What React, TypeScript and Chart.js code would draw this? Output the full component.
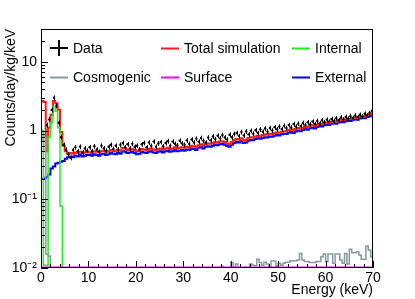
import { useEffect, useRef } from "react";
import { Chart, registerables } from "chart.js";

Chart.register(...registerables);

// ---- binning / axes ----
const BIN_WIDTH = 0.5; // keV
const X_MIN = 0;
const X_MAX = 70;
const Y_MIN = 0.01;
const Y_MAX = 30;
const yTickValues = [0.01, 0.1, 1, 10];
const yTickLabels = ["10\u207B\u00B2", "10\u207B\u00B9", "1", "10"];
const X_TITLE = "Energy (keV)";
const Y_TITLE = "Counts/day/kg/keV";

const legendLabels = ["Data", "Total simulation", "Internal", "Cosmogenic", "Surface", "External"];

// ---- series (0.5 keV bins from 0 to 70 keV) ----
const dataValues: (number | null)[] = [
  null, null, 1.2, 1.45, 2.0, 3.0, 2.3, 1.3, 0.8, 0.62,
  0.53, 0.45, 0.40, 0.52, 0.57, 0.50, 0.58, 0.48, 0.55, 0.51,
  0.57, 0.50, 0.59, 0.53, 0.49, 0.60, 0.55, 0.51, 0.58, 0.62,
  0.54, 0.60, 0.53, 0.62, 0.66, 0.57, 0.63, 0.55, 0.64, 0.58,
  0.60, 0.53, 0.63, 0.66, 0.57, 0.67, 0.60, 0.69, 0.58, 0.65,
  0.68, 0.59, 0.66, 0.70, 0.60, 0.69, 0.64, 0.61, 0.71, 0.65,
  0.62, 0.72, 0.64, 0.74, 0.67, 0.76, 0.69, 0.78, 0.71, 0.67,
  0.79, 0.72, 0.82, 0.75, 0.84, 0.77, 0.86, 0.79, 0.74, 0.87,
  0.80, 0.89, 0.92, 0.83, 0.95, 0.85, 0.97, 0.88, 0.99, 0.90,
  1.01, 0.92, 1.04, 0.96, 1.07, 0.97, 1.09, 1.00, 1.12, 1.04,
  1.14, 1.05, 1.17, 1.09, 1.20, 1.11, 1.24, 1.14, 1.26, 1.16,
  1.29, 1.20, 1.32, 1.23, 1.35, 1.24, 1.38, 1.27, 1.41, 1.32,
  1.44, 1.35, 1.47, 1.38, 1.51, 1.41, 1.55, 1.45, 1.58, 1.49,
  1.62, 1.52, 1.66, 1.57, 1.70, 1.61, 1.75, 1.66, 1.80, 1.92,
];

const totalSimulation = [
  2.7, 2.6, 0.5, 1.1, 1.7, 2.7, 2.5, 2.0, 0.95, 0.6,
  0.5, 0.46, 0.47, 0.46, 0.48, 0.47, 0.49, 0.47, 0.48, 0.49,
  0.48, 0.47, 0.50, 0.49, 0.48, 0.50, 0.51, 0.49, 0.50, 0.52,
  0.51, 0.50, 0.52, 0.51, 0.56, 0.55, 0.52, 0.53, 0.54, 0.52,
  0.50, 0.51, 0.54, 0.53, 0.52, 0.54, 0.55, 0.53, 0.52, 0.54,
  0.55, 0.53, 0.55, 0.56, 0.54, 0.55, 0.57, 0.55, 0.56, 0.57,
  0.56, 0.58, 0.57, 0.60, 0.59, 0.57, 0.61, 0.63, 0.61, 0.64,
  0.65, 0.64, 0.66, 0.68, 0.67, 0.69, 0.70, 0.68, 0.65, 0.63,
  0.68, 0.73, 0.75, 0.74, 0.77, 0.72, 0.73, 0.78, 0.80, 0.79,
  0.82, 0.84, 0.83, 0.86, 0.88, 0.87, 0.90, 0.89, 0.92, 0.94,
  0.93, 0.96, 0.98, 0.97, 1.02, 1.04, 1.01, 1.06, 1.09, 1.07,
  1.11, 1.14, 1.12, 1.17, 1.19, 1.16, 1.22, 1.25, 1.23, 1.28,
  1.31, 1.29, 1.35, 1.37, 1.34, 1.40, 1.43, 1.41, 1.46, 1.49,
  1.47, 1.52, 1.55, 1.53, 1.59, 1.62, 1.60, 1.68, 1.72, 1.78,
];

// internal component only populates the first bins (0 - 5 keV)
const internal = [1.0, 0.011, 0.011, 0.8, 1.3, 2.2, 1.9, 1.1, 0.08, 0];

const cosmogenic = [
  0.7, 0.8, 0.016, 0.015, 0, 0, 0, 0, 0, 0,
  0, 0, 0, 0, 0, 0, 0, 0, 0, 0,
  0, 0, 0, 0, 0, 0, 0, 0, 0, 0,
  0, 0, 0, 0, 0, 0, 0, 0, 0, 0,
  0, 0, 0, 0, 0, 0, 0, 0, 0.0103, 0,
  0, 0, 0, 0, 0, 0, 0, 0, 0, 0,
  0, 0, 0, 0, 0, 0, 0, 0, 0, 0,
  0, 0, 0, 0, 0, 0, 0.0105, 0, 0, 0,
  0.012, 0, 0.0114, 0, 0, 0, 0, 0, 0.0114, 0.011,
  0.0108, 0.0134, 0.012, 0.011, 0.0121, 0.0114, 0.0107, 0.0126, 0.0126, 0.0107,
  0.0117, 0.011, 0.0117, 0.0121, 0.0121, 0.0128, 0.0128, 0.0128, 0.0131, 0.0163,
  0.0131, 0.0124, 0.0124, 0.012, 0.012, 0.012, 0.0124, 0.0124, 0.0146, 0.016,
  0.0124, 0.016, 0.016, 0.0117, 0.016, 0.016, 0.0131, 0.0117, 0.0163, 0.0114,
  0.0187, 0.0167, 0.0167, 0.0173, 0.0155, 0.0134, 0.0134, 0.0209, 0.0183, 0.0146,
];

const surface = [
  0.0102, 0.0102, 0.0102, 0.0102, 0.0102, 0.0102, 0.0102, 0.0102, 0.0102, 0.0102,
  0.0102, 0.0102, 0.0102, 0.0102, 0.0102, 0.0102, 0.0102, 0.0102, 0.0102, 0.0102,
  0.0102, 0.0102, 0.0102, 0.0102, 0.0102, 0.0102, 0.0102, 0.0102, 0.0102, 0.0102,
  0.0102, 0.0102, 0.0102, 0.0102, 0.0102, 0.0102, 0.0102, 0.0102, 0.0102, 0.0102,
  0.0102, 0.0102, 0.0102, 0.0102, 0.0102, 0.0102, 0.0102, 0.0102, 0.0102, 0.0102,
  0.0102, 0.0102, 0.0102, 0.0102, 0.0102, 0.0102, 0.0102, 0.0102, 0.0102, 0.0102,
  0.0102, 0.0102, 0.0102, 0.0102, 0.0102, 0.0102, 0.0102, 0.0102, 0.0102, 0.0102,
  0.0102, 0.0102, 0.0102, 0.0102, 0.0102, 0.0102, 0.0102, 0.0102, 0.0102, 0.0102,
  0.0102, 0.0102, 0.0102, 0.0102, 0.0102, 0.0102, 0.0102, 0.0102, 0.0102, 0.0102,
  0.0102, 0.0102, 0.0102, 0.0102, 0.0102, 0.0102, 0.0102, 0.0102, 0.0102, 0.0102,
  0.0102, 0.0102, 0.0102, 0.0102, 0.0102, 0.0102, 0.0102, 0.0102, 0.0102, 0.0102,
  0.0102, 0.0102, 0.0102, 0.0102, 0.0102, 0.0102, 0.0102, 0.0102, 0.0102, 0.0102,
  0.0102, 0.0102, 0.0102, 0.0102, 0.0102, 0.0102, 0.0102, 0.0102, 0.0102, 0.0102,
  0.0102, 0.0102, 0.0102, 0.0102, 0.0102, 0.0102, 0.0102, 0.0102, 0.0102, 0.0102,
];

const external = [
  0.20, 0.20, 0.21, 0.23, 0.28, 0.30, 0.33, 0.34, 0.35, 0.36,
  0.39, 0.41, 0.42, 0.41, 0.43, 0.42, 0.44, 0.42, 0.43, 0.44,
  0.44, 0.43, 0.45, 0.44, 0.43, 0.45, 0.46, 0.44, 0.45, 0.47,
  0.46, 0.45, 0.47, 0.46, 0.50, 0.49, 0.47, 0.48, 0.49, 0.47,
  0.45, 0.46, 0.49, 0.48, 0.47, 0.49, 0.50, 0.48, 0.47, 0.49,
  0.50, 0.48, 0.50, 0.51, 0.49, 0.50, 0.52, 0.50, 0.51, 0.52,
  0.51, 0.53, 0.52, 0.55, 0.54, 0.52, 0.56, 0.57, 0.55, 0.58,
  0.59, 0.58, 0.60, 0.62, 0.61, 0.63, 0.64, 0.62, 0.60, 0.58,
  0.62, 0.66, 0.68, 0.67, 0.70, 0.66, 0.67, 0.71, 0.73, 0.72,
  0.75, 0.77, 0.76, 0.78, 0.80, 0.79, 0.82, 0.81, 0.84, 0.86,
  0.85, 0.88, 0.90, 0.89, 0.93, 0.95, 0.92, 0.97, 1.00, 0.98,
  1.02, 1.05, 1.03, 1.08, 1.10, 1.07, 1.13, 1.16, 1.14, 1.19,
  1.22, 1.20, 1.26, 1.28, 1.25, 1.31, 1.34, 1.32, 1.37, 1.40,
  1.38, 1.43, 1.46, 1.44, 1.50, 1.53, 1.51, 1.57, 1.60, 1.64,
];

// ---- styles ----
const FONT = "'Liberation Sans', Arial, Helvetica, sans-serif";
const FONT_SIZE = 14;
const COLORS = {
  data: "#000000",
  total: "#ff1a1a",
  internal: "#22ee22",
  cosmogenic: "#8599a0",
  surface: "#ff00ff",
  external: "#0000ff",
};
const EMPTY = 1e-4; // below the axis: empty bin on a log scale
const ERR_FRAC = 0.08;

function histPoints(values: number[]) {
  const pts = values.map((v, i) => ({ x: X_MIN + i * BIN_WIDTH, y: v > 0 ? v : EMPTY }));
  pts.push({ x: X_MIN + values.length * BIN_WIDTH, y: pts[pts.length - 1].y });
  return pts;
}

function dataPoints(values: (number | null)[]) {
  const pts: { x: number; y: number }[] = [];
  values.forEach((v, i) => {
    if (v != null) pts.push({ x: X_MIN + (i + 0.5) * BIN_WIDTH, y: v });
  });
  return pts;
}

const rootStylePlugin = {
  id: "rootStyle",
  afterDatasetsDraw(chart: any) {
    const ctx = chart.ctx;
    const xs = chart.scales.x;
    const ys = chart.scales.y;
    const ds = chart.data.datasets[0].data as { x: number; y: number }[];
    ctx.save();
    ctx.beginPath();
    ctx.rect(chart.chartArea.left, chart.chartArea.top, chart.chartArea.right - chart.chartArea.left, chart.chartArea.bottom - chart.chartArea.top);
    ctx.clip();
    ctx.strokeStyle = COLORS.data;
    ctx.lineWidth = 1;
    ds.forEach((p) => {
      const px = Math.round(xs.getPixelForValue(p.x)) + 0.5;
      const py1 = ys.getPixelForValue(p.y * (1 + ERR_FRAC));
      const py2 = ys.getPixelForValue(p.y * (1 - ERR_FRAC));
      ctx.beginPath();
      ctx.moveTo(px, py1);
      ctx.lineTo(px, py2);
      ctx.stroke();
    });
    ctx.restore();
  },
  afterDraw(chart: any) {
    const ctx = chart.ctx;
    const { left, right, top, bottom } = chart.chartArea;
    const xs = chart.scales.x;
    const ys = chart.scales.y;
    ctx.save();
    ctx.strokeStyle = "#000";
    ctx.lineWidth = 1;
    // frame
    ctx.strokeRect(Math.round(left) + 0.5, Math.round(top) + 0.5, Math.round(right - left) - 1, Math.round(bottom - top) - 1);
    // x ticks (inside)
    ctx.beginPath();
    for (let e = X_MIN; e <= X_MAX; e += 2) {
      const px = Math.round(xs.getPixelForValue(e)) + 0.5;
      const len = e % 10 === 0 ? 7 : 4;
      ctx.moveTo(px, bottom);
      ctx.lineTo(px, bottom - len);
    }
    // y ticks (inside)
    for (let d = -2; d <= 1; d++) {
      for (let m = 1; m <= 9; m++) {
        const v = m * Math.pow(10, d);
        if (v < Y_MIN || v > Y_MAX) continue;
        const py = Math.round(ys.getPixelForValue(v)) + 0.5;
        const len = m === 1 ? 7 : 4;
        ctx.moveTo(left, py);
        ctx.lineTo(left + len, py);
      }
    }
    ctx.stroke();

    // legend
    const rows = [top + 19, top + 48];
    const cols = [left + 9, left + 120, left + 251];
    const symW = 18;
    const textGap = 5;
    ctx.font = `${FONT_SIZE}px ${FONT}`;
    ctx.textBaseline = "middle";
    ctx.textAlign = "left";
    ctx.fillStyle = "#000";
    legendLabels.forEach((label, i) => {
      const r = Math.floor(i / 3);
      const c = i % 3;
      const x0 = cols[c];
      const y0 = rows[r];
      const ds = chart.data.datasets.find((d: any) => d.label === label);
      if (label === "Data") {
        ctx.strokeStyle = "#000";
        ctx.lineWidth = 2;
        ctx.beginPath();
        ctx.moveTo(x0, y0);
        ctx.lineTo(x0 + symW, y0);
        ctx.moveTo(x0 + symW / 2, y0 - 8);
        ctx.lineTo(x0 + symW / 2, y0 + 8);
        ctx.stroke();
      } else {
        ctx.strokeStyle = ds ? ds.borderColor : "#000";
        ctx.lineWidth = 2;
        ctx.beginPath();
        ctx.moveTo(x0, y0 + 0.5);
        ctx.lineTo(x0 + symW, y0 + 0.5);
        ctx.stroke();
      }
      ctx.fillText(label, x0 + symW + textGap, y0 + 1);
    });
    ctx.restore();
  },
};

export default function App() {
  const canvasRef = useRef<HTMLCanvasElement>(null);

  useEffect(() => {
    if (!canvasRef.current) return;
    const font = { family: FONT, size: FONT_SIZE };
    const chart = new Chart(canvasRef.current, {
      type: "line",
      data: {
        datasets: [
          {
            label: "Data",
            type: "scatter",
            data: dataPoints(dataValues),
            backgroundColor: COLORS.data,
            borderColor: COLORS.data,
            borderWidth: 0,
            pointRadius: 1.2,
            pointHoverRadius: 1.2,
            showLine: false,
            order: 0,
          } as any,
          {
            label: "Surface",
            data: histPoints(surface),
            borderColor: COLORS.surface,
            borderWidth: 2,
            pointRadius: 0,
            stepped: true,
            fill: false,
            order: 1,
          },
          {
            label: "Cosmogenic",
            data: histPoints(cosmogenic),
            borderColor: COLORS.cosmogenic,
            borderWidth: 1.5,
            pointRadius: 0,
            stepped: true,
            fill: false,
            order: 2,
          },
          {
            label: "Internal",
            data: histPoints(internal),
            borderColor: COLORS.internal,
            borderWidth: 1.5,
            pointRadius: 0,
            stepped: true,
            fill: false,
            order: 3,
          },
          {
            label: "Total simulation",
            data: histPoints(totalSimulation),
            borderColor: COLORS.total,
            borderWidth: 2,
            pointRadius: 0,
            stepped: true,
            fill: false,
            order: 4,
          },
          {
            label: "External",
            data: histPoints(external),
            borderColor: COLORS.external,
            borderWidth: 2,
            pointRadius: 0,
            stepped: true,
            fill: false,
            order: 5,
          },
        ],
      },
      options: {
        animation: false,
        responsive: true,
        maintainAspectRatio: false,
        events: [],
        layout: { padding: { top: 29, right: 42, left: 0, bottom: 0 } },
        plugins: {
          legend: { display: false },
          tooltip: { enabled: false },
        },
        scales: {
          x: {
            type: "linear",
            min: X_MIN,
            max: X_MAX,
            afterFit: (s: any) => {
              s.height = 31;
            },
            grid: { display: false, drawTicks: false },
            border: { display: false },
            ticks: {
              stepSize: 10,
              color: "#000",
              font,
              padding: 2,
              maxRotation: 0,
              autoSkip: false,
            },
            title: {
              display: true,
              text: X_TITLE,
              align: "end",
              color: "#000",
              font,
              padding: { top: 0, bottom: 0 },
            },
          },
          y: {
            type: "logarithmic",
            min: Y_MIN,
            max: Y_MAX,
            afterFit: (s: any) => {
              s.width = 41;
            },
            afterBuildTicks: (s: any) => {
              s.ticks = yTickValues.map((v) => ({ value: v }));
            },
            grid: { display: false, drawTicks: false },
            border: { display: false },
            ticks: {
              color: "#000",
              font,
              padding: 4,
              autoSkip: false,
              callback: (_v: any, i: number) => yTickLabels[i],
            },
            title: {
              display: true,
              text: Y_TITLE,
              align: "end",
              color: "#000",
              font,
              padding: { top: 3, bottom: 0 },
            },
          },
        },
      },
      plugins: [rootStylePlugin],
    });
    return () => chart.destroy();
  }, []);

  return (
    <div style={{ position: "absolute", left: 0, top: 0, width: 415, height: 299, background: "#fff" }}>
      <canvas ref={canvasRef} />
    </div>
  );
}
